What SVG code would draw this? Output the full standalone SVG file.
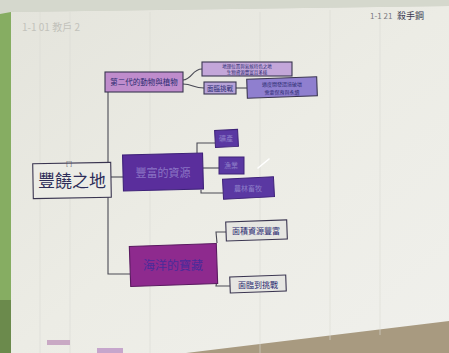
<svg xmlns="http://www.w3.org/2000/svg" width="449" height="353" viewBox="0 0 449 353">
<defs>
<style>
.ln{fill:none;stroke:#4a4a55;stroke-width:1.1}
.bx{stroke:#3a3550;stroke-width:1.1}
.tx{font-family:"Noto Sans CJK TC","Noto Sans CJK SC",sans-serif;fill:#2a2a70}
.grid{stroke:#dadad3;stroke-width:0.6}
</style>
<linearGradient id="paper" x1="0" y1="0" x2="1" y2="1">
<stop offset="0" stop-color="#e4e4dc"/>
<stop offset="0.5" stop-color="#ececE5"/>
<stop offset="1" stop-color="#f0f0ec"/>
</linearGradient>
</defs>
<rect x="0" y="0" width="449" height="353" fill="#cfd1c8"/>
<rect x="0" y="0" width="14" height="353" fill="#86ad62"/>
<rect x="0" y="300" width="14" height="53" fill="#6b8a4c"/>
<polygon points="11,12 449,6 449,353 11,353" fill="url(#paper)"/>
<polygon points="0,0 449,0 449,6 11,12 0,14" fill="#d5d8cd"/>
<polygon points="186,353 449,321 449,353" fill="#a89a80"/>
<g id="grid">
<line class="grid" x1="40" y1="12" x2="40" y2="353"/>
<line class="grid" x1="70" y1="12" x2="70" y2="353"/>
<line class="grid" x1="150" y1="12" x2="150" y2="353"/>
<line class="grid" x1="260" y1="12" x2="260" y2="353"/>
<line class="grid" x1="330" y1="10" x2="330" y2="340"/>
<line class="grid" x1="380" y1="10" x2="380" y2="335"/>
</g>
<text x="22" y="31" class="tx" font-size="10" style="fill:#c2c2bb">1-1 01 教戶 2</text>
<text x="370" y="19" class="tx" font-size="8" style="fill:#7a7a80">1-1 21</text>
<text x="397" y="19" class="tx" font-size="9" style="fill:#3a3a50">殺手鋼</text>
<g id="connectors">
<path class="ln" d="M108,92 L108,274 L130,274"/>
<path class="ln" d="M111,177 L124,177"/>
<path class="ln" d="M183,80 C192,80 192,69 202,69"/>
<path class="ln" d="M183,84 C193,84 193,88 204,88"/>
<path class="ln" d="M236,88 L247,88"/>
<path class="ln" d="M197,153 L197,143 L215,143"/>
<path class="ln" d="M203,168 L219,168"/>
<path class="ln" d="M201,190 L201,193 L223,193"/>
<path class="ln" d="M217,243 L216,232 L226,232"/>
<path class="ln" d="M217,280 L216,286 L230,286"/>
</g>
<g id="root">
<rect class="bx" x="33" y="163" width="78" height="35" fill="#ecece6" transform="rotate(-1 72 180)"/>
<text x="72" y="187" text-anchor="middle" class="tx" font-size="17" style="fill:#2c2c58">豐饒之地</text>
<text x="66" y="166" class="tx" font-size="6" style="fill:#4a4a60">[‾]</text>
</g>
<g id="n_top">
<rect class="bx" x="105" y="72" width="78" height="20" fill="#bf8ccc"/>
<text x="144" y="85" text-anchor="middle" class="tx" font-size="7.5">第二代的動物與植物</text>
</g>
<g id="n_top_a">
<rect class="bx" x="202" y="62" width="90" height="14" fill="#c3a6d9"/>
<text x="247" y="67.8" text-anchor="middle" class="tx" font-size="4.5">地理位置與氣候特色之地</text>
<text x="247" y="74.4" text-anchor="middle" class="tx" font-size="4.5">生物資源豐富且多樣</text>
</g>
<g id="n_top_b">
<rect class="bx" x="204" y="82" width="32" height="12" fill="#b7a3d8"/>
<text x="220" y="91" text-anchor="middle" class="tx" font-size="6.5">面臨挑戰</text>
</g>
<g id="n_top_c">
<rect class="bx" x="247" y="78" width="70" height="19" fill="#8f7fcf" transform="rotate(-2 282 87)"/>
<text x="282" y="85.5" text-anchor="middle" class="tx" font-size="5">過度開發環境破壞</text>
<text x="282" y="93.5" text-anchor="middle" class="tx" font-size="5">需要保育與永續</text>
</g>
<g id="n_mid">
<rect x="123" y="154" width="80" height="36" fill="#5a2e9c" stroke="#3e2278" stroke-width="1.1" transform="rotate(-1.5 163 172)"/>
<text x="163" y="177" text-anchor="middle" class="tx" font-size="11" style="fill:#8a74c4">豐富的資源</text>
</g>
<g id="n_mid_a">
<rect x="215" y="130" width="23" height="17" fill="#5a38a2" stroke="#3e2278" stroke-width="1" transform="rotate(-3 226 138)"/>
<text x="226" y="141" text-anchor="middle" class="tx" font-size="7" style="fill:#8d7ec8">礦產</text>
</g>
<g id="n_mid_b">
<rect x="219" y="157" width="25" height="17" fill="#5a38a2" stroke="#3e2278" stroke-width="1"/>
<text x="231" y="168" text-anchor="middle" class="tx" font-size="7" style="fill:#8d7ec8">漁業</text>
</g>
<g id="n_mid_c">
<rect x="223" y="178" width="51" height="20" fill="#5a38a2" stroke="#3e2278" stroke-width="1" transform="rotate(-3 248 188)"/>
<text x="248" y="191" text-anchor="middle" class="tx" font-size="7" style="fill:#8d7ec8">農林畜牧</text>
</g>
<line x1="258" y1="168" x2="269" y2="159" stroke="#ffffff" stroke-width="1.6" stroke-linecap="round"/>
<g id="n_bot">
<rect x="130" y="245" width="87" height="40" fill="#8e2a8e" stroke="#5a1a60" stroke-width="1.1" transform="rotate(-2 173 265)"/>
<text x="173" y="270" text-anchor="middle" class="tx" font-size="12" style="fill:#4a2a9a">海洋的寶藏</text>
</g>
<g id="n_bot_a">
<rect class="bx" x="226" y="221" width="61" height="19" fill="#e6e6e2" transform="rotate(-2 256 230)"/>
<text x="256" y="234" text-anchor="middle" class="tx" font-size="8">面積資源豐富</text>
</g>
<g id="n_bot_b">
<rect class="bx" x="230" y="276" width="56" height="16" fill="#e6e6e2" transform="rotate(-2 258 284)"/>
<text x="258" y="288" text-anchor="middle" class="tx" font-size="8">面臨到挑戰</text>
</g>
<rect x="47" y="340" width="23" height="5" fill="#c9a9c4"/>
<rect x="97" y="348" width="26" height="5" fill="#c6a6cc"/>
</svg>
